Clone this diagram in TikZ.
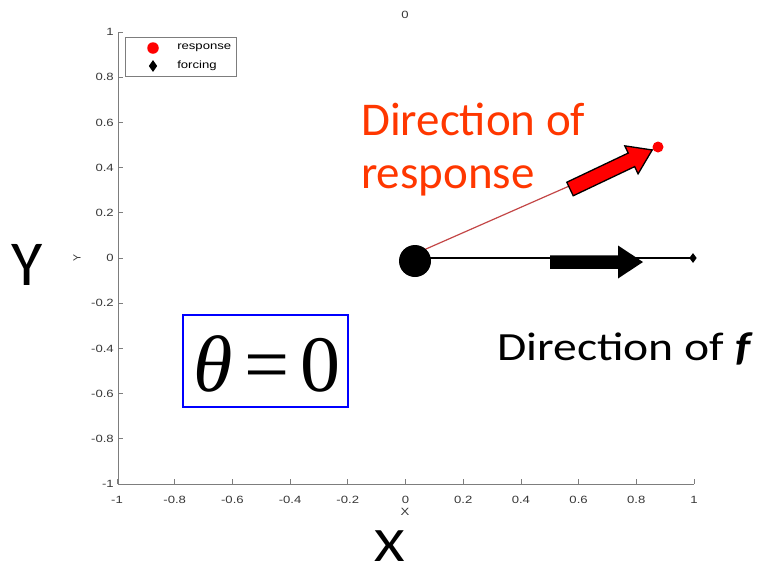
\documentclass[tikz,border=0pt]{standalone}
\usepackage{fontspec}
\setmainfont{Carlito}
\newfontfamily\axisfont{Liberation Sans}
\newfontfamily\thetafont{Liberation Serif}
\usetikzlibrary{shapes.geometric}
\definecolor{redtext}{RGB}{255,55,0}
\definecolor{resplinecol}{RGB}{195,70,70}
\definecolor{axisgray}{RGB}{125,125,125}
\definecolor{ticktext}{RGB}{55,55,55}
\begin{document}
\begin{tikzpicture}[x=1pt,y=-1pt,
  axistext/.style={font=\axisfont\fontsize{10.5}{12}\selectfont, text=ticktext, inner sep=0pt, xscale=1.25},
  axislabel/.style={font=\axisfont\fontsize{10.5}{12}\selectfont, text=ticktext, inner sep=0pt},
  axisline/.style={draw=axisgray, line width=0.8pt},
  bigtext/.style={inner sep=0pt, font=\fontsize{47}{56}\selectfont},
  dataline/.style={line width=1.2pt}]
\useasboundingbox (0,0) rectangle (758,574);

% axes
\coordinate (top) at (118,32);
\coordinate (corner) at (118,484);
\coordinate (right) at (694,484);
\draw[axisline] (top) -- (corner) -- (right);
\foreach \v/\t [count=\i] in {1/1,0.8/0.8,0.6/0.6,0.4/0.4,0.2/0.2,0/0,-0.2/-0.2,-0.4/-0.4,-0.6/-0.6,-0.8/-0.8,-1/-1}{
  \draw[axisline] (118,{258-226*(\v)}) -- ++(5,0);
  \node[axistext, anchor=east] (ytick\i) at (114,{258-226*(\v)}) {\t};
}
\foreach \v/\t [count=\i] in {-1/-1,-0.8/-0.8,-0.6/-0.6,-0.4/-0.4,-0.2/-0.2,0/0,0.2/0.2,0.4/0.4,0.6/0.6,0.8/0.8,1/1}{
  \draw[axisline] ({405.5+288.5*(\v)},484) -- ++(0,-5);
  \node[axistext] (xtick\i) at ({405.5+288.5*(\v)},500) {\t};
}
\node[axislabel, rotate=90] (ylab) at (77,258) {Y};
\node[axistext] (xlab) at (405,512) {X};
\node[axistext] (title) at (405,15) {0};

% legend
\node[draw=axisgray, line width=0.8pt, minimum width=111pt, minimum height=39pt, inner sep=0pt] (legend) at (180.5,56.5) {};
\node[circle, fill=red, minimum size=11.5pt, inner sep=0pt] (legr) at (153,48) {};
\node[diamond, fill=black, minimum width=8.5pt, minimum height=12pt, inner sep=0pt] (legf) at (153,66) {};
\node[axistext, text=black, anchor=west] (legrt) at (177,47.5) {response};
\node[axistext, text=black, anchor=west] (legft) at (177,66) {forcing};

% data
\coordinate (O) at (405.5,258);
\coordinate (R) at (658,147);
\coordinate (F) at (693,258);
\draw[dataline, resplinecol] (O) -- (R);
\draw[dataline, black] (O) -- (F);
\node[circle, fill=red, minimum size=11pt, inner sep=0pt] (resp) at (R) {};
\node[diamond, fill=black, minimum width=7.5pt, minimum height=10pt, inner sep=0pt] (forc) at (F) {};
\node[circle, fill=black, minimum size=32pt, inner sep=0pt] (dot) at (415,261) {};

% block arrows
\fill[black, shift={(550,262)}] (0,-6.75) -- (68,-6.75) -- (68,-16.5) -- (93,0) -- (68,16.5) -- (68,6.75) -- (0,6.75) -- cycle;
\draw[fill=red, draw=black, line width=1.3pt, line join=miter, shift={(570,189)}, rotate=25.4] (0,-7.5) -- (68,-7.5) -- (68,-15.5) -- (91,0) -- (68,15.5) -- (68,7.5) -- (0,7.5) -- cycle;

% texts
\node[bigtext, text=redtext, anchor=base west] (dir1) at (361,135) {Direction of};
\node[bigtext, text=redtext, anchor=base west] (dir2) at (361,188) {response};
\node[inner sep=0pt, font=\fontsize{40}{48}\selectfont, xscale=1.19, anchor=base west] (dirf) at (497,360) {Direction of \textbf{\textit{f}}};
\node[inner sep=0pt, font=\fontsize{64}{72}\selectfont, anchor=base] (bigY) at (27,285) {Y};
\node[inner sep=0pt, text depth=0pt, font=\fontsize{48}{56}\selectfont, xscale=1.22, anchor=base] (bigX) at (390,561) {X};

% theta box
\node[draw=blue, line width=1.5pt, minimum width=165pt, minimum height=92pt, inner sep=0pt] (thetabox) at (265.5,361) {};
\node[inner sep=0pt, font=\thetafont\fontsize{80}{88}\selectfont, anchor=base] (thetatext) at (267,391) {\textit{θ}\kern11pt=\kern11pt0};
\end{tikzpicture}
\end{document}
